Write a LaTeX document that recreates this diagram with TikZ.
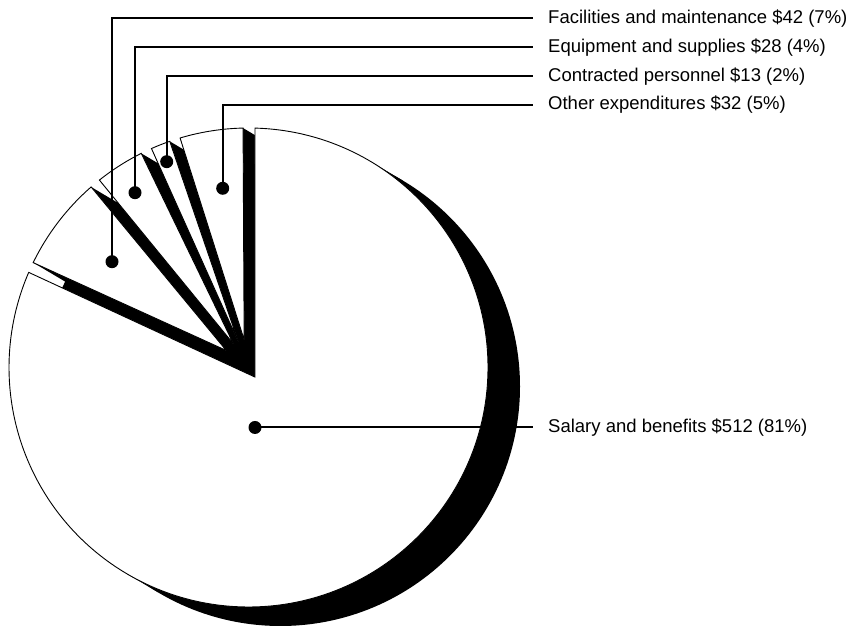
\documentclass[tikz,border=0pt]{standalone}
\usepackage{fontspec}
\setmainfont{Liberation Sans}
\usetikzlibrary{calc}
\begin{document}
\begin{tikzpicture}[x=1pt,y=1pt,
  lbl/.style={anchor=west,inner sep=0pt,font=\fontsize{18.5}{22}\selectfont},
  dotnode/.style={circle,fill=black,inner sep=0pt,minimum size=13pt},
  leader/.style={line width=2pt},
  slicebox/.style={fill=white,draw=black,line width=0.9pt,line join=miter}]
\useasboundingbox (0,0) rectangle (857,628);
\fill[white] (0,0) rectangle (857,628);
\coordinate (O) at (248.5,260.5);
\coordinate (D) at (32,-19);
\def\R{239.5}
% extrusion of the whole pie
\fill[black] ($(O)+(D)$) circle[radius=\R];
\fill[black] ($(O)+(59.3:\R)$) -- ($(O)+(59.3:\R)+(D)$) -- ($(O)+(239.3:\R)+(D)$) -- ($(O)+(239.3:\R)$) -- cycle;
% extrusion of the exploded small slices
\foreach \a/\b in {131.08/154.03, 116.6/128.5, 109.2/113.9, 91.3/106.6} {
  \pgfmathsetmacro\m{(\a+\b)/2}
  \fill[black] ($(O)+(\m:28)+(D)$) -- ($(O)+(\a:\R)+(D)$) arc[start angle=\a,end angle=\b,radius=\R] -- cycle;
  \fill[black] ($(O)+(\m:28)$) -- ($(O)+(\a:\R)$) -- ($(O)+(\a:\R)+(D)$) -- ($(O)+(\m:28)+(D)$) -- cycle;
  \fill[black] ($(O)+(\m:28)$) -- ($(O)+(\b:\R)$) -- ($(O)+(\b:\R)+(D)$) -- ($(O)+(\m:28)+(D)$) -- cycle;
}
% white faces
\draw[slicebox] (254.8,251) -- ($(O)+(88.45:\R)$) arc[start angle=88.45,end angle=-203.4,radius=\R] -- cycle;
\foreach \a/\b in {131.08/154.03, 116.6/128.5, 109.2/113.9, 91.3/106.6} {
  \pgfmathsetmacro\m{(\a+\b)/2}
  \draw[slicebox] ($(O)+(\m:28)$) -- ($(O)+(\a:\R)$) arc[start angle=\a,end angle=\b,radius=\R] -- cycle;
}
% dots
\node[dotnode] (dF) at (112,366.3) {};
\node[dotnode] (dE) at (135,435.3) {};
\node[dotnode] (dC) at (166.7,466.3) {};
\node[dotnode] (dO) at (222.7,439.7) {};
\node[dotnode] (dS) at (255,200.5) {};
% labels
\node[lbl] (lF) at (548,609.5) {Facilities and maintenance \$42 (7\%)};
\node[lbl] (lE) at (548,580.7) {Equipment and supplies \$28 (4\%)};
\node[lbl] (lC) at (548,551.8) {Contracted personnel \$13 (2\%)};
\node[lbl] (lO) at (548,523) {Other expenditures \$32 (5\%)};
\node[lbl] (lS) at (548,200.5) {Salary and benefits \$512 (81\%)};
% leaders
\draw[leader] (dF.center) |- ([xshift=-15pt]lF.west);
\draw[leader] (dE.center) |- ([xshift=-15pt]lE.west);
\draw[leader] (dC.center) |- ([xshift=-15pt]lC.west);
\draw[leader] (dO.center) |- ([xshift=-15pt]lO.west);
\draw[leader] (dS.center) -- ([xshift=-15pt]lS.west);
\end{tikzpicture}
\end{document}
